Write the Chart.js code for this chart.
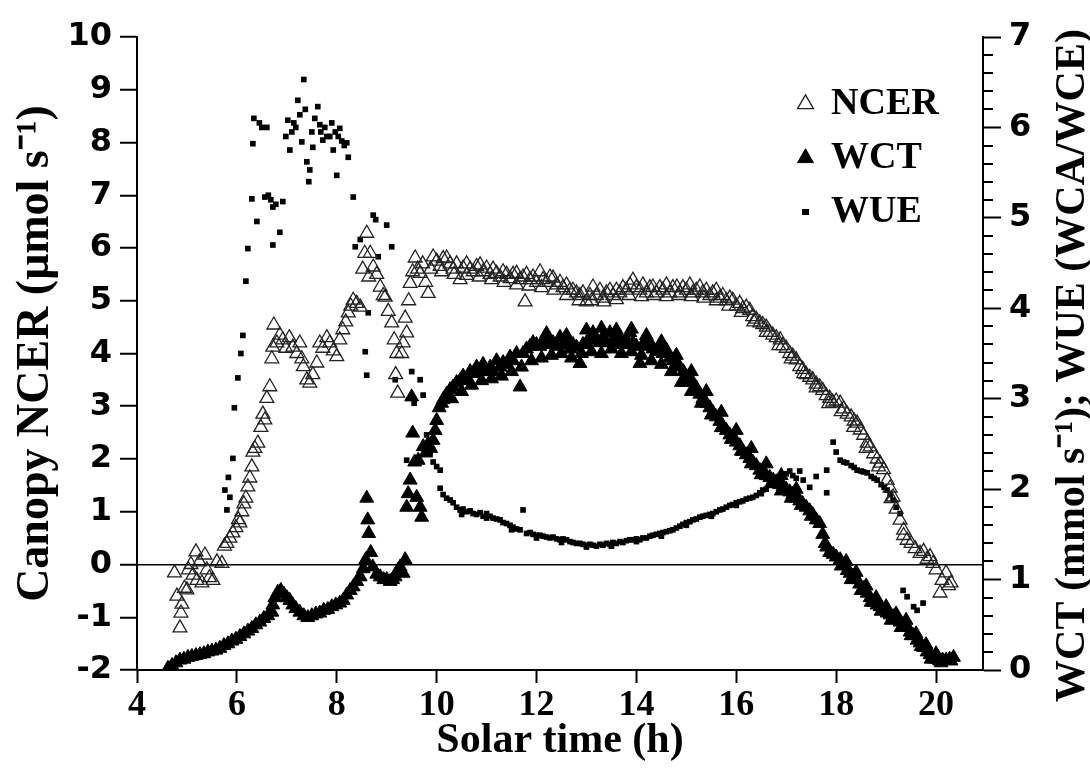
<!DOCTYPE html>
<html lang="en">
<head>
<meta charset="UTF-8"/>
<title>Canopy NCER, WCT and WUE over the day</title>
<style>
    html, body {
        margin: 0;
        padding: 0;
        background: #fff;
        overflow: hidden;
    }
    canvas {
        display: block;
    }
</style>
</head>
<body>
<canvas id="chart" width="1090" height="771"></canvas>

<script src="https://cdn.jsdelivr.net/npm/chart.js"></script>
<script>
// Solar time (h) vs value, one [time, value] pair per reading

// Canopy NCER (umol s-1), left axis
const ncerPoints = [
    [4.75,-0.16],[4.8,-0.6],[4.86,-1.2],[4.88,-0.92],[4.9,-0.75],[4.95,-0.45],[5.0,-0.48],[5.03,-0.1],
    [5.08,0.0],[5.12,-0.2],[5.18,0.24],[5.2,-0.3],[5.25,0.05],[5.3,-0.35],[5.36,0.18],[5.4,-0.1],
    [5.45,-0.25],[5.52,-0.3],[5.6,0.05],[5.7,0.02],[5.75,0.35],[5.8,0.4],[5.86,0.5],[5.92,0.6],
    [5.98,0.7],[6.03,0.85],[6.06,0.79],[6.1,1.0],[6.14,1.15],[6.18,1.26],[6.22,1.47],[6.26,1.64],
    [6.3,1.85],[6.32,2.13],[6.36,2.2],[6.42,2.3],[6.48,2.6],[6.52,2.85],[6.56,2.74],[6.6,3.15],
    [6.66,3.37],[6.7,3.9],[6.72,4.12],[6.74,4.54],[6.8,4.2],[6.86,4.35],[6.92,4.26],[6.98,4.1],
    [7.05,4.3],[7.12,4.12],[7.2,4.0],[7.26,4.2],[7.3,3.9],[7.33,3.75],[7.4,3.5],[7.46,3.44],
    [7.52,3.6],[7.6,3.82],[7.66,4.2],[7.72,4.1],[7.8,4.3],[7.86,4.2],[7.93,4.05],[8.0,3.94],
    [8.06,4.26],[8.12,4.45],[8.18,4.6],[8.23,4.77],[8.28,4.9],[8.33,5.01],[8.4,4.95],[8.47,4.88],
    [8.52,5.6],[8.56,5.9],[8.6,6.28],[8.64,5.45],[8.67,5.9],[8.73,5.64],[8.8,5.5],[8.87,5.26],
    [8.93,5.1],[8.97,5.07],[9.03,4.8],[9.1,4.58],[9.15,4.26],[9.18,3.6],[9.2,4.0],[9.22,3.25],
    [9.3,4.0],[9.33,4.2],[9.37,4.67],[9.4,4.39],[9.44,5.0],[9.47,5.33],[9.52,5.55],[9.57,5.81],
    [9.62,5.6],[9.67,5.52],[9.72,5.7],[9.78,5.35],[9.83,5.14],[9.88,5.6],[9.93,5.83],[10.0,5.75],
    [10.07,5.65],[10.13,5.8],[10.2,5.81],[10.27,5.7],[10.33,5.6],[10.4,5.7],[10.47,5.4],[10.53,5.62],
    [10.6,5.7],[10.67,5.6],[10.73,5.55],[10.8,5.65],[10.87,5.68],[10.93,5.55],[11.0,5.62],[11.07,5.5],
    [11.13,5.6],[11.2,5.52],[11.27,5.45],[11.33,5.55],[11.4,5.5],[11.47,5.42],[11.53,5.5],[11.6,5.52],
    [11.67,5.4],[11.73,5.45],[11.77,4.98],[11.8,5.5],[11.87,5.4],[11.93,5.45],[12.0,5.35],[12.07,5.55],
    [12.13,5.4],[12.2,5.35],[12.27,5.45],[12.33,5.43],[12.4,5.3],[12.47,5.35],[12.53,5.25],[12.6,5.3],
    [12.67,5.2],[12.73,5.2],[12.8,5.15],[12.87,5.1],[12.93,5.15],[13.0,4.98],[13.07,5.1],[13.13,5.26],
    [13.2,5.1],[13.27,5.2],[13.33,5.05],[13.4,5.15],[13.47,5.2],[13.53,5.1],[13.6,5.2],[13.67,5.15],
    [13.73,5.25],[13.8,5.2],[13.87,5.3],[13.93,5.39],[14.0,5.25],[14.07,5.2],[14.13,5.3],[14.2,5.15],
    [14.27,5.25],[14.33,5.26],[14.4,5.15],[14.47,5.25],[14.53,5.2],[14.6,5.3],[14.67,5.15],[14.73,5.25],
    [14.81,5.26],[14.87,5.15],[14.93,5.25],[15.0,5.2],[15.07,5.3],[15.13,5.15],[15.2,5.2],[15.27,5.26],
    [15.33,5.15],[15.4,5.2],[15.47,5.1],[15.53,5.15],[15.6,5.2],[15.67,5.05],[15.73,5.1],[15.8,5.0],
    [15.87,5.05],[15.93,5.01],[16.0,4.9],[16.07,4.95],[16.13,4.85],[16.2,4.88],[16.27,4.82],[16.33,4.7],
    [16.4,4.65],[16.47,4.58],[16.53,4.55],[16.6,4.5],[16.67,4.4],[16.73,4.35],[16.8,4.3],[16.88,4.26],
    [16.93,4.15],[17.0,4.1],[17.07,4.0],[17.13,3.95],[17.2,3.88],[17.27,3.75],[17.33,3.7],[17.4,3.6],
    [17.47,3.55],[17.53,3.5],[17.6,3.42],[17.67,3.37],[17.73,3.3],[17.8,3.2],[17.87,3.15],[17.93,3.08],
    [18.0,3.1],[18.08,3.06],[18.15,2.95],[18.22,2.85],[18.3,2.8],[18.36,2.72],[18.42,2.68],[18.48,2.55],
    [18.55,2.45],[18.62,2.3],[18.68,2.23],[18.75,2.1],[18.82,2.0],[18.88,1.92],[18.95,1.8],[19.02,1.6],
    [19.08,1.45],[19.14,1.28],[19.2,1.05],[19.28,0.84],[19.35,0.65],[19.42,0.46],[19.5,0.4],[19.58,0.3],
    [19.68,0.21],[19.75,0.25],[19.82,0.1],[19.88,0.15],[19.94,0.02],[20.0,-0.1],[20.08,-0.54],[20.12,-0.3],
    [20.2,-0.16],[20.25,-0.4],[20.3,-0.35],
    // lower edge of the midday band
    [10.1,5.55],[10.35,5.5],[10.6,5.48],[10.85,5.45],[11.1,5.4],[11.35,5.35],[11.6,5.3],[11.85,5.28],
    [12.1,5.25],[12.35,5.2],[12.6,5.1],[12.85,5.0],[13.1,5.0],[13.35,4.98],[13.6,5.02],[13.85,5.1],
    [14.1,5.08],[14.35,5.1],[14.6,5.08],[14.85,5.1],[15.1,5.08],[15.35,5.05],[15.6,5.0],[15.85,4.9],
    [16.1,4.78],[16.35,4.6],[16.6,4.4],[16.85,4.15],[17.1,3.9],[17.35,3.62],[17.6,3.35],[17.85,3.05],
    [18.1,2.9],[18.35,2.6],[18.6,2.2],[18.85,1.85],[19.1,1.25],[19.35,0.55]
];

// WCT (mmol s-1), right axis
const wctPoints = [
    [4.62,0.02],[4.7,0.05],[4.78,0.08],[4.86,0.11],[4.94,0.12],[5.02,0.14],[5.1,0.15],[5.18,0.16],
    [5.26,0.17],[5.34,0.18],[5.42,0.2],[5.5,0.21],[5.58,0.22],[5.66,0.24],[5.74,0.27],[5.82,0.29],
    [5.9,0.32],[5.98,0.34],[6.06,0.37],[6.14,0.4],[6.22,0.43],[6.3,0.46],[6.38,0.5],[6.46,0.53],
    [6.54,0.57],[6.62,0.6],[6.7,0.64],[6.72,0.72],[6.76,0.8],[6.82,0.86],[6.88,0.88],[6.94,0.84],
    [7.0,0.8],[7.06,0.77],[7.12,0.72],[7.18,0.68],[7.26,0.64],[7.34,0.6],[7.42,0.58],[7.5,0.6],
    [7.58,0.62],[7.66,0.63],[7.74,0.66],[7.82,0.67],[7.9,0.7],[7.98,0.72],[8.06,0.74],[8.13,0.77],
    [8.2,0.83],[8.27,0.88],[8.33,0.92],[8.4,0.98],[8.47,1.03],[8.53,1.12],[8.58,1.22],[8.6,1.9],
    [8.62,1.66],[8.64,1.51],[8.68,1.3],[8.72,1.14],[8.8,1.06],[8.87,1.03],[8.94,1.0],[9.0,1.0],
    [9.07,0.98],[9.12,1.0],[9.17,1.03],[9.22,1.1],[9.27,1.14],[9.33,1.07],[9.37,1.22],[9.4,1.8],
    [9.43,1.95],[9.47,2.1],[9.5,3.02],[9.52,2.62],[9.56,2.3],[9.6,1.91],[9.63,2.32],[9.67,1.8],
    [9.7,1.69],[9.73,2.47],[9.78,2.4],[9.83,2.5],[9.88,2.45],[9.93,2.54],[9.97,2.65],[10.0,2.76],
    [10.05,2.9],[10.1,2.95],[10.13,2.99],[10.2,3.05],[10.27,3.1],[10.33,3.13],[10.4,3.18],[10.47,3.2],
    [10.53,3.25],[10.6,3.21],[10.67,3.3],[10.73,3.28],[10.8,3.35],[10.87,3.3],[10.93,3.38],[11.0,3.3],
    [11.07,3.35],[11.13,3.3],[11.2,3.42],[11.27,3.35],[11.33,3.4],[11.4,3.38],[11.47,3.46],[11.53,3.42],
    [11.6,3.5],[11.67,3.13],[11.73,3.5],[11.8,3.55],[11.87,3.58],[11.93,3.62],[12.0,3.6],[12.07,3.58],
    [12.13,3.63],[12.2,3.65],[12.27,3.6],[12.33,3.62],[12.4,3.58],[12.47,3.68],[12.53,3.6],[12.6,3.62],
    [12.67,3.55],[12.73,3.6],[12.8,3.57],[12.87,3.39],[12.93,3.6],[13.0,3.62],[13.07,3.65],[13.13,3.73],
    [13.2,3.65],[13.27,3.62],[13.33,3.68],[13.4,3.62],[13.47,3.73],[13.53,3.65],[13.6,3.62],[13.67,3.68],
    [13.73,3.6],[13.8,3.65],[13.87,3.73],[13.93,3.62],[14.0,3.58],[14.07,3.39],[14.13,3.6],[14.2,3.58],
    [14.27,3.62],[14.33,3.55],[14.4,3.52],[14.47,3.58],[14.53,3.5],[14.6,3.54],[14.67,3.45],[14.73,3.42],
    [14.8,3.38],[14.87,3.35],[14.94,3.3],[15.0,3.25],[15.07,3.2],[15.13,3.18],[15.2,3.12],[15.27,3.05],
    [15.33,3.0],[15.4,2.95],[15.47,2.9],[15.53,2.85],[15.6,2.8],[15.67,2.75],[15.73,2.7],[15.8,2.65],
    [15.87,2.6],[15.93,2.56],[16.0,2.52],[16.07,2.48],[16.13,2.42],[16.2,2.38],[16.27,2.34],[16.33,2.3],
    [16.4,2.26],[16.47,2.21],[16.53,2.18],[16.6,2.15],[16.67,2.13],[16.74,2.1],[16.8,2.08],[16.87,2.05],
    [16.94,2.03],[17.0,2.0],[17.07,1.97],[17.13,1.94],[17.2,1.9],[17.27,1.87],[17.33,1.84],[17.4,1.8],
    [17.47,1.76],[17.53,1.72],[17.6,1.66],[17.67,1.62],[17.73,1.5],[17.78,1.4],[17.81,1.36],[17.87,1.3],
    [17.94,1.28],[18.0,1.25],[18.08,1.22],[18.15,1.16],[18.22,1.1],[18.28,1.07],[18.34,1.04],[18.4,1.0],
    [18.47,0.95],[18.55,0.9],[18.62,0.85],[18.68,0.8],[18.75,0.75],[18.82,0.72],[18.88,0.7],[18.95,0.66],
    [19.02,0.63],[19.08,0.61],[19.14,0.59],[19.2,0.56],[19.28,0.53],[19.35,0.5],[19.42,0.48],[19.48,0.42],
    [19.55,0.38],[19.62,0.33],[19.68,0.3],[19.75,0.25],[19.82,0.2],[19.88,0.17],[19.94,0.14],[20.0,0.12],
    [20.07,0.1],[20.13,0.11],[20.2,0.11],[20.27,0.12],[20.35,0.14],
    // lower edge of the band
    [10.3,3.0],[10.5,3.08],[10.7,3.15],[10.9,3.2],[11.1,3.22],[11.3,3.25],[11.5,3.3],[11.7,3.35],
    [11.9,3.42],[12.1,3.45],[12.3,3.48],[12.5,3.5],[12.7,3.45],[12.9,3.5],[13.1,3.52],[13.3,3.5],
    [13.5,3.55],[13.7,3.5],[13.9,3.52],[14.1,3.48],[14.3,3.42],[14.5,3.38],[14.7,3.3],[14.9,3.18],
    [15.1,3.08],[15.3,2.95],[15.5,2.82],[15.7,2.68],[15.9,2.55],[16.1,2.42],[16.3,2.28],[16.5,2.16],
    [16.7,2.06],[16.9,1.98],[17.1,1.9],[17.3,1.82],[17.5,1.7],
    [18.1,1.15],[18.3,1.0],[18.5,0.88],[18.7,0.75],[18.9,0.65],[19.1,0.55],[19.3,0.47],[19.5,0.38],
    [19.7,0.26],[19.9,0.12],[20.1,0.08],[20.3,0.1],
    // upper edge of the band
    [12.2,3.72],[12.6,3.7],[13.0,3.76],[13.3,3.78],[13.6,3.76],[13.9,3.77],[14.2,3.7],[14.5,3.63],
    [14.8,3.48],[15.1,3.3],[15.4,3.08],[15.7,2.85],[16.0,2.65],[16.3,2.45],[16.6,2.28],[16.9,2.15],
    [17.2,2.0],[18.2,1.2],[18.4,1.08],[18.6,0.93],[18.8,0.8],[19.0,0.7],[19.2,0.62],[19.4,0.55],
    [19.6,0.4],[19.8,0.28],[20.0,0.18]
];

// WUE (WCA/WCE), right axis
const wuePoints = [
    [5.76,1.99],[5.8,1.77],[5.83,2.13],[5.86,1.91],[5.92,2.34],[5.95,2.9],[6.02,3.23],[6.08,3.5],
    [6.12,3.7],[6.18,4.3],[6.22,4.66],[6.3,5.21],[6.32,5.82],[6.34,6.1],[6.4,4.96],[6.45,6.05],
    [6.5,6.0],[6.56,5.23],[6.6,6.0],[6.63,5.25],[6.68,5.2],[6.72,5.12],[6.72,4.7],[6.78,5.15],
    [6.86,4.84],[6.92,5.18],[6.98,5.9],[7.02,6.08],[7.06,5.75],[7.1,5.95],[7.14,6.05],[7.18,6.0],
    [7.22,6.3],[7.26,6.14],[7.3,5.84],[7.34,6.53],[7.37,6.2],[7.4,5.62],[7.44,5.4],[7.46,5.53],
    [7.5,5.95],[7.52,5.78],[7.56,6.1],[7.62,6.23],[7.66,6.03],[7.68,5.95],[7.72,5.86],[7.76,6.0],
    [7.8,5.9],[7.86,5.9],[7.9,6.05],[7.93,5.75],[7.97,5.95],[8.0,5.47],[8.03,5.9],[8.06,5.99],
    [8.1,5.85],[8.15,5.8],[8.2,5.83],[8.23,5.67],[8.33,5.23],[8.37,4.68],[8.47,4.76],[8.57,3.52],
    [8.6,3.26],[8.63,3.95],[8.73,5.03],[8.78,4.98],[8.83,4.57],[9.0,4.92],[9.1,4.68],[9.17,3.21],
    [9.4,2.32],[9.5,3.3],[9.55,2.95],[9.67,3.21],[9.73,3.04],[9.8,2.6],[9.87,2.4],[9.93,2.3],
    [10.0,2.25],[10.07,2.21],[10.07,2.01],[10.13,1.94],[10.2,1.9],[10.27,1.88],[10.33,1.85],[10.4,1.8],
    [10.47,1.77],[10.53,1.78],[10.6,1.75],[10.67,1.76],[10.73,1.73],[10.8,1.72],[10.87,1.74],[10.93,1.7],
    [11.0,1.73],[11.07,1.7],[11.13,1.68],[11.2,1.67],[11.27,1.66],[11.33,1.63],[11.4,1.62],[11.47,1.6],
    [11.53,1.58],[11.6,1.56],[11.67,1.55],[11.73,1.77],[11.8,1.51],[11.87,1.52],[11.93,1.5],[12.0,1.49],
    [12.07,1.49],[12.13,1.48],[12.2,1.47],[12.27,1.46],[12.33,1.47],[12.4,1.45],[12.47,1.44],[12.53,1.45],
    [12.6,1.44],[12.67,1.42],[12.73,1.41],[12.8,1.4],[12.87,1.4],[12.93,1.39],[13.0,1.38],[13.07,1.39],
    [13.13,1.38],[13.2,1.37],[13.27,1.39],[13.33,1.38],[13.4,1.4],[13.47,1.39],[13.53,1.41],[13.6,1.4],
    [13.67,1.42],[13.73,1.41],[13.8,1.43],[13.87,1.44],[13.93,1.44],[14.0,1.45],[14.07,1.44],[14.13,1.46],
    [14.2,1.46],[14.27,1.48],[14.33,1.49],[14.4,1.5],[14.47,1.51],[14.53,1.52],[14.6,1.53],[14.67,1.54],
    [14.73,1.55],[14.8,1.57],[14.87,1.59],[14.93,1.61],[15.0,1.63],[15.07,1.64],[15.13,1.66],[15.2,1.67],
    [15.27,1.69],[15.33,1.7],[15.4,1.71],[15.47,1.72],[15.53,1.73],[15.6,1.75],[15.67,1.77],[15.73,1.78],
    [15.8,1.8],[15.87,1.82],[15.93,1.83],[16.0,1.85],[16.07,1.86],[16.13,1.87],[16.2,1.89],[16.27,1.9],
    [16.33,1.91],[16.4,1.93],[16.47,1.96],[16.53,1.99],[16.6,2.0],[16.67,2.05],[16.73,2.08],[16.8,2.12],
    [16.87,2.14],[16.93,2.15],[17.0,2.17],[17.07,2.2],[17.13,2.15],[17.2,2.12],[17.27,2.2],[17.34,2.1],
    [17.47,2.02],[17.6,2.14],[17.81,2.21],[17.81,1.96],[17.94,2.52],[18.0,2.41],[18.08,2.32],[18.15,2.3],
    [18.21,2.29],[18.3,2.26],[18.36,2.24],[18.42,2.21],[18.5,2.2],[18.55,2.19],[18.62,2.18],[18.7,2.14],
    [18.76,2.12],[18.82,2.1],[18.9,2.05],[18.96,2.02],[19.02,1.99],[19.08,1.94],[19.14,1.88],[19.2,1.8],
    [19.28,1.73],[19.34,0.88],[19.42,0.81],[19.55,0.7],[19.62,0.66],[19.74,0.74],
    // second row through the midday trough
    [10.5,1.72],[11.0,1.68],[11.5,1.55],[12.0,1.46],[12.5,1.41],[13.0,1.36],[13.5,1.37],[14.0,1.42],
    [14.5,1.48],[15.0,1.6],[15.5,1.7],[16.0,1.82],[16.5,1.95]
];

const xRange = [4, 20.94];
const leftRange = [-2, 10];
const rightRange = [0, 7];
const seriesNames = ['NCER', 'WCT', 'WUE'];
const xTitle = 'Solar time (h)';
const leftTitle = 'Canopy NCER (\u03bcmol s\u207b\u00b9)';
const rightTitleText = 'WCT (mmol s\u207b\u00b9); WUE (WCA/WCE)';

const SERIF = '"Liberation Serif", "Times New Roman", serif';
const SANS = '"DejaVu Sans", Arial, sans-serif';

const toXY = pts => pts.map(p => ({x: p[0], y: p[1]}));

// small filled square used as the WUE legend marker
const legendSquare = document.createElement('canvas');
legendSquare.width = 7;
legendSquare.height = 6;
legendSquare.getContext('2d').fillRect(0, 0, 7, 6);

// right-hand title reads bottom-to-top, so it is drawn here
const rightTitle = {
    id: 'rightTitle',
    afterDraw(chart) {
        const ctx = chart.ctx;
        const area = chart.chartArea;
        ctx.save();
        ctx.font = 'bold 42px ' + SERIF;
        ctx.fillStyle = '#000';
        ctx.textAlign = 'center';
        ctx.textBaseline = 'alphabetic';
        ctx.translate(area.right + 101, (area.top + area.bottom) / 2 + 12);
        ctx.rotate(-Math.PI / 2);
        ctx.fillText(rightTitleText, 0, 0);
        ctx.restore();
    }
};

// minor ticks every 0.2 on the right axis
const minorTicks = {
    id: 'minorTicks',
    afterDraw(chart) {
        const ctx = chart.ctx;
        const scale = chart.scales.y2;
        const x0 = chart.chartArea.right;
        ctx.save();
        ctx.strokeStyle = '#000';
        ctx.lineWidth = 2;
        ctx.beginPath();
        for (let i = 1; i < 35; i++) {
            if (i % 5 === 0) continue;
            const y = Math.round(scale.getPixelForValue(i / 5));
            ctx.moveTo(x0, y);
            ctx.lineTo(x0 + 10, y);
        }
        ctx.stroke();
        ctx.restore();
    }
};

// move the legend box into the upper right of the plot
const legendSpot = {
    id: 'legendSpot',
    afterLayout(chart) {
        chart.legend.left = 783;
        chart.legend.top = 69;
    }
};

Chart.defaults.color = '#000';

new Chart(document.getElementById('chart'), {
    type: 'scatter',
    data: {
        datasets: [
            {
                label: seriesNames[0],
                data: toXY(ncerPoints),
                yAxisID: 'y',
                pointStyle: 'triangle',
                pointRadius: 8,
                borderColor: '#222',
                backgroundColor: 'rgba(0,0,0,0)',
                borderWidth: 1.3
            },
            {
                label: seriesNames[1],
                data: toXY(wctPoints),
                yAxisID: 'y2',
                pointStyle: 'triangle',
                pointRadius: 8,
                borderColor: '#000',
                backgroundColor: '#000',
                borderWidth: 1
            },
            {
                label: seriesNames[2],
                data: toXY(wuePoints),
                yAxisID: 'y2',
                pointStyle: 'rect',
                pointRadius: 4,
                borderColor: '#000',
                backgroundColor: '#000',
                borderWidth: 0
            }
        ]
    },
    options: {
        responsive: false,
        animation: false,
        layout: {
            padding: {top: 37, left: 0, right: 0, bottom: 0}
        },
        plugins: {
            tooltip: {enabled: false},
            legend: {
                position: 'chartArea',
                align: 'start',
                labels: {
                    usePointStyle: true,
                    boxWidth: 13,
                    boxHeight: 13,
                    padding: 16,
                    font: {family: SERIF, size: 38, weight: 'bold'},
                    generateLabels(chart) {
                        const items = Chart.defaults.plugins.legend.labels.generateLabels(chart);
                        items.forEach(item => {
                            if (item.text === 'WUE') item.pointStyle = legendSquare;
                        });
                        return items;
                    }
                }
            }
        },
        scales: {
            x: {
                type: 'linear',
                min: xRange[0],
                max: xRange[1],
                afterFit: s => { s.height = 101; },
                border: {display: true, color: '#000', width: 2},
                grid: {
                    drawOnChartArea: false,
                    tickColor: '#000',
                    tickWidth: 2,
                    tickLength: 13
                },
                ticks: {
                    stepSize: 2,
                    includeBounds: false,
                    padding: 1,
                    maxRotation: 0,
                    font: {family: SERIF, size: 36, weight: 'bold'}
                },
                title: {
                    display: true,
                    text: xTitle,
                    padding: {top: 0, bottom: 5},
                    font: {family: SERIF, size: 42, weight: 'bold'}
                }
            },
            y: {
                position: 'left',
                min: leftRange[0],
                max: leftRange[1],
                afterFit: s => { s.width = 137; },
                border: {display: true, color: '#000', width: 2},
                grid: {
                    drawOnChartArea: true,
                    color: ctx => (ctx.tick && ctx.tick.value === 0) ? '#000' : 'rgba(0,0,0,0)',
                    lineWidth: 1.5,
                    tickColor: '#000',
                    tickWidth: 2,
                    tickLength: 17
                },
                ticks: {
                    stepSize: 1,
                    autoSkip: false,
                    padding: 8,
                    font: {family: SANS, size: 32, weight: 'bold'}
                },
                title: {
                    display: true,
                    text: leftTitle,
                    padding: {top: 9, bottom: 0},
                    font: {family: SERIF, size: 46, weight: 'bold'}
                }
            },
            y2: {
                position: 'right',
                min: rightRange[0],
                max: rightRange[1],
                afterFit: s => { s.width = 107; },
                border: {display: true, color: '#000', width: 2},
                grid: {
                    drawOnChartArea: false,
                    tickColor: '#000',
                    tickWidth: 2,
                    tickLength: 18
                },
                ticks: {
                    stepSize: 1,
                    autoSkip: false,
                    padding: 8,
                    font: {family: SANS, size: 32, weight: 'bold'}
                }
            }
        }
    },
    plugins: [legendSpot, minorTicks, rightTitle]
});
</script>
</body>
</html>
